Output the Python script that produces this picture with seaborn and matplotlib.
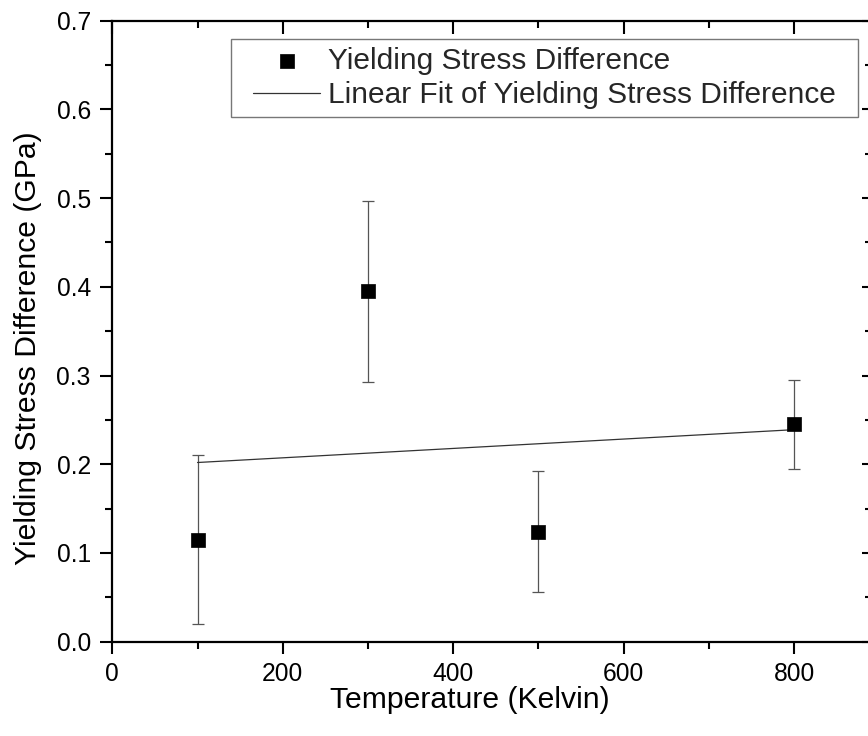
import matplotlib
matplotlib.use("Agg")
import matplotlib.pyplot as plt
import seaborn as sns
import pandas as pd
from matplotlib.path import Path
from matplotlib.ticker import MultipleLocator, FormatStrFormatter

sns.set_theme(style="white")
plt.rcParams['font.family'] = ['Liberation Sans', 'DejaVu Sans']

# data
temperature = [100, 300, 500, 800]
stress_diff = [0.115, 0.395, 0.124, 0.245]
stress_err = [0.095, 0.102, 0.068, 0.050]
fit_temperature = [100, 800]
fit_stress = [0.202, 0.239]

df = pd.DataFrame({"T": temperature, "S": stress_diff, "E": stress_err})
fit_df = pd.DataFrame({"T": fit_temperature, "S": fit_stress})

fig = plt.figure(figsize=(8.68, 7.36), dpi=100)
ax = fig.add_axes([0.1294, 0.1281, 0.8718, 0.8438])

ax.errorbar(df["T"], df["S"], yerr=df["E"], fmt="none", ecolor="#555555",
            elinewidth=0.9, capsize=4.5, capthick=0.9, zorder=2)
sns.lineplot(data=fit_df, x="T", y="S", ax=ax, color="#333333", linewidth=0.9,
             label="Linear Fit of Yielding Stress Difference", zorder=3)
sns.scatterplot(data=df, x="T", y="S", ax=ax, marker="s", s=100, color="black",
                edgecolor="black", linewidth=0.5, label="Yielding Stress Difference", zorder=4)

ax.set_xlim(0, 888)
ax.set_ylim(0, 0.7)
ax.xaxis.set_major_locator(MultipleLocator(200))
ax.xaxis.set_minor_locator(MultipleLocator(100))
ax.yaxis.set_major_locator(MultipleLocator(0.1))
ax.yaxis.set_minor_locator(MultipleLocator(0.05))
ax.yaxis.set_major_formatter(FormatStrFormatter("%.1f"))

for s in ax.spines.values():
    s.set_color("black")
    s.set_linewidth(1.6)

ax.tick_params(axis="both", which="both", colors="black", labelsize=17.7, width=1.5)
ax.tick_params(axis="both", which="major", length=8.5, direction="out")
ax.tick_params(axis="both", which="minor", length=5, direction="out")
ax.tick_params(axis="x", which="major", pad=6)
ax.tick_params(axis="y", which="major", pad=7)
ax.tick_params(which="both", top=True, right=True, bottom=True, left=True)
# top/right ticks inward
for t in ax.xaxis.get_major_ticks():
    t.tick2line.set_marker(matplotlib.lines.TICKDOWN)
    t.tick2line.set_markersize(9)
for t in ax.xaxis.get_minor_ticks():
    t.tick2line.set_marker(matplotlib.lines.TICKDOWN)
    t.tick2line.set_markersize(5)
for t in ax.yaxis.get_major_ticks():
    t.tick2line.set_marker(matplotlib.lines.TICKLEFT)
    t.tick2line.set_markersize(5)
for t in ax.yaxis.get_minor_ticks():
    t.tick2line.set_marker(matplotlib.lines.TICKLEFT)
    t.tick2line.set_markersize(3)

ax.set_xlabel("Temperature (Kelvin)", fontsize=21.7, color="black")
ax.set_ylabel("Yielding Stress Difference (GPa)", fontsize=21.7, color="black")
ax.xaxis.set_label_coords(0.4727, -0.071)
ax.yaxis.set_label_coords(-0.093, 0.473)

handles, labels = ax.get_legend_handles_labels()
order = [labels.index("Yielding Stress Difference"),
         labels.index("Linear Fit of Yielding Stress Difference")]
leg = ax.legend([handles[i] for i in order], [labels[i] for i in order],
                loc="upper right", bbox_to_anchor=(0.967, 0.9705), fontsize=21.5,
                frameon=True, fancybox=False, framealpha=1, edgecolor="#777777",
                borderpad=0.27, labelspacing=0.2, handlelength=2.24,
                handletextpad=0.27, borderaxespad=0)


def wide_box(x0, y0, width, height, mutation_size):
    px = 0.47 * mutation_size
    verts = [(x0 - px, y0), (x0 + width + px, y0), (x0 + width + px, y0 + height),
             (x0 - px, y0 + height), (x0 - px, y0)]
    return Path(verts, closed=True)


leg.get_frame().set_boxstyle(wide_box)
leg.get_frame().set_linewidth(1.0)

fig.savefig("out.png", dpi=100)
